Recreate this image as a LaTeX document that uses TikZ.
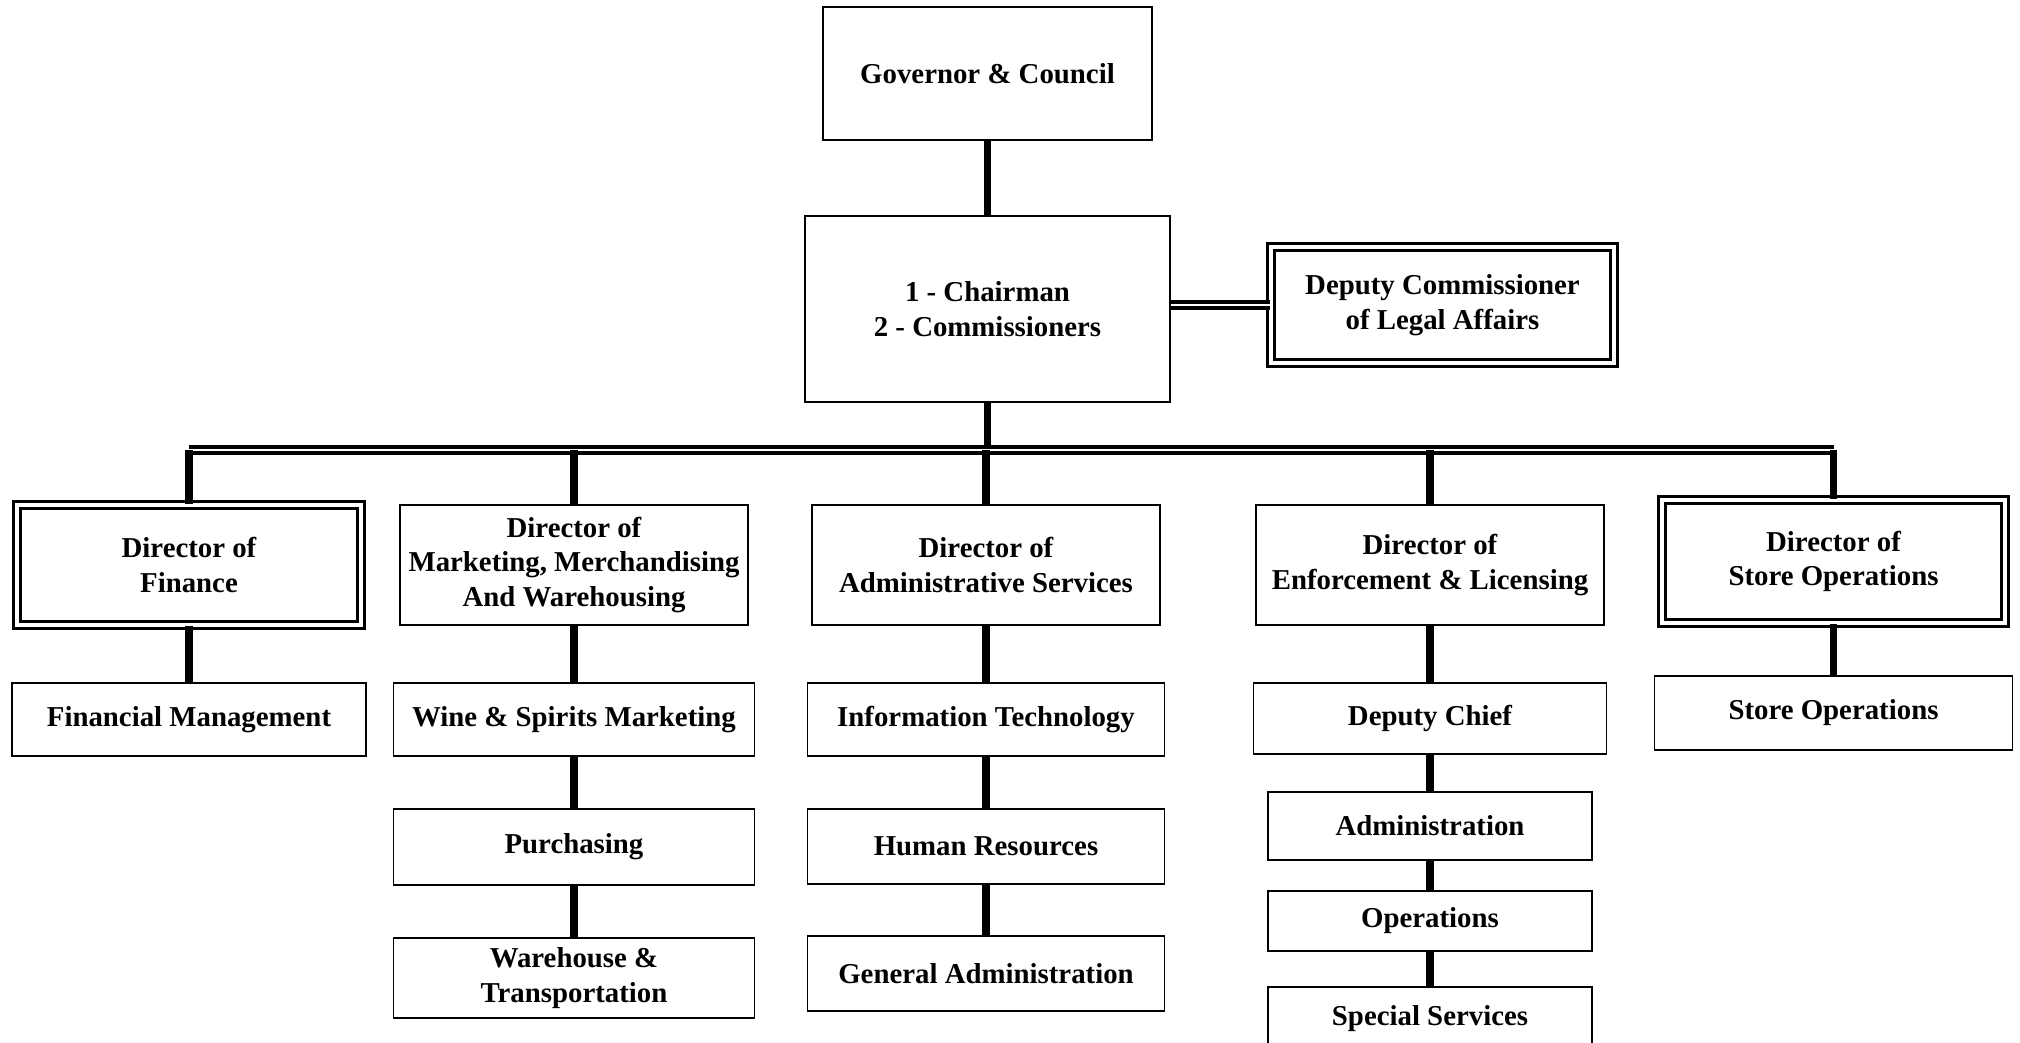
\documentclass[tikz,border=0pt]{standalone}
\usepackage{fontspec}
\setmainfont{Liberation Serif}
\usetikzlibrary{positioning}

\tikzset{
  box/.style={draw, line width=0.5pt, align=center, inner sep=1pt,
    font=\fontsize{8.2}{9.9}\selectfont\bfseries},
  dbox/.style={box, double, double distance=1.3pt, line width=0.7pt},
  link/.style={line width=2pt},
  bus/.style={double, double distance=0.3pt, line width=1.3pt},
}

\begin{document}
\begin{tikzpicture}
  \useasboundingbox (0,0) rectangle (20.2,-10.43);

  % top of the chart
  \node [box, minimum width=3.29cm, minimum height=1.33cm] at (9.875,-0.735) (gov) {Governor \& Council};
  \node [box, minimum width=3.65cm, minimum height=1.86cm] at (9.875,-3.09) (chair) {1 - Chairman\\2 - Commissioners};
  \node [dbox, minimum width=3.43cm, minimum height=1.16cm] at (14.425,-3.05) (legal) {Deputy Commissioner\\of Legal Affairs};
  \coordinate (bus) at (9.875,-4.50);

  % directors
  \node [dbox, minimum width=3.44cm, minimum height=1.20cm] at (1.89,-5.65) (fin) {Director of\\Finance};
  \node [box, minimum width=3.48cm, minimum height=1.20cm] at (5.74,-5.65) (mkt) {Director of\\Marketing, Merchandising\\And Warehousing};
  \node [box, minimum width=3.48cm, minimum height=1.20cm] at (9.86,-5.65) (adm) {Director of\\Administrative Services};
  \node [box, minimum width=3.48cm, minimum height=1.20cm] at (14.30,-5.65) (enf) {Director of\\Enforcement \& Licensing};
  \node [dbox, minimum width=3.43cm, minimum height=1.23cm] at (18.335,-5.615) (store) {Director of\\Store Operations};

  % divisions
  \node [box, minimum width=3.54cm, minimum height=0.73cm] at (1.89,-7.195) (finmgmt) {Financial Management};
  \node [box, minimum width=3.61cm, minimum height=0.73cm] at (5.74,-7.195) (wine) {Wine \& Spirits Marketing};
  \node [box, minimum width=3.61cm, minimum height=0.76cm] at (5.74,-8.47) (purch) {Purchasing};
  \node [box, minimum width=3.61cm, minimum height=0.80cm] at (5.74,-9.78) (wh) {Warehouse \&\\Transportation};
  \node [box, minimum width=3.57cm, minimum height=0.73cm] at (9.86,-7.195) (it) {Information Technology};
  \node [box, minimum width=3.57cm, minimum height=0.75cm] at (9.86,-8.465) (hr) {Human Resources};
  \node [box, minimum width=3.57cm, minimum height=0.75cm] at (9.86,-9.735) (genadm) {General Administration};
  \node [box, minimum width=3.53cm, minimum height=0.71cm] at (14.30,-7.185) (depchief) {Deputy Chief};
  \node [box, minimum width=3.24cm, minimum height=0.68cm] at (14.30,-8.26) (admin) {Administration};
  \node [box, minimum width=3.24cm, minimum height=0.60cm] at (14.30,-9.21) (ops) {Operations};
  \node [box, minimum width=3.24cm, minimum height=0.63cm] at (14.30,-10.185) (special) {Special Services};
  \node [box, minimum width=3.58cm, minimum height=0.74cm] at (18.335,-7.13) (storeops) {Store Operations};

  % connectors
  \draw [link] (gov) -- (chair);
  \draw [bus] (chair.east |- legal.west) -- (legal.west);
  \draw [link] (chair) -- (bus);
  \draw [bus] (fin.north |- bus) -- (store.north |- bus);
  \foreach \d in {fin, mkt, adm, enf, store}
    \draw [link] (\d.north |- bus) -- (\d.north);
  \draw [link] (fin) -- (finmgmt);
  \draw [link] (mkt) -- (wine) -- (purch) -- (wh);
  \draw [link] (adm) -- (it) -- (hr) -- (genadm);
  \draw [link] (enf) -- (depchief) -- (admin) -- (ops) -- (special);
  \draw [link] (store) -- (storeops);
\end{tikzpicture}
\end{document}
